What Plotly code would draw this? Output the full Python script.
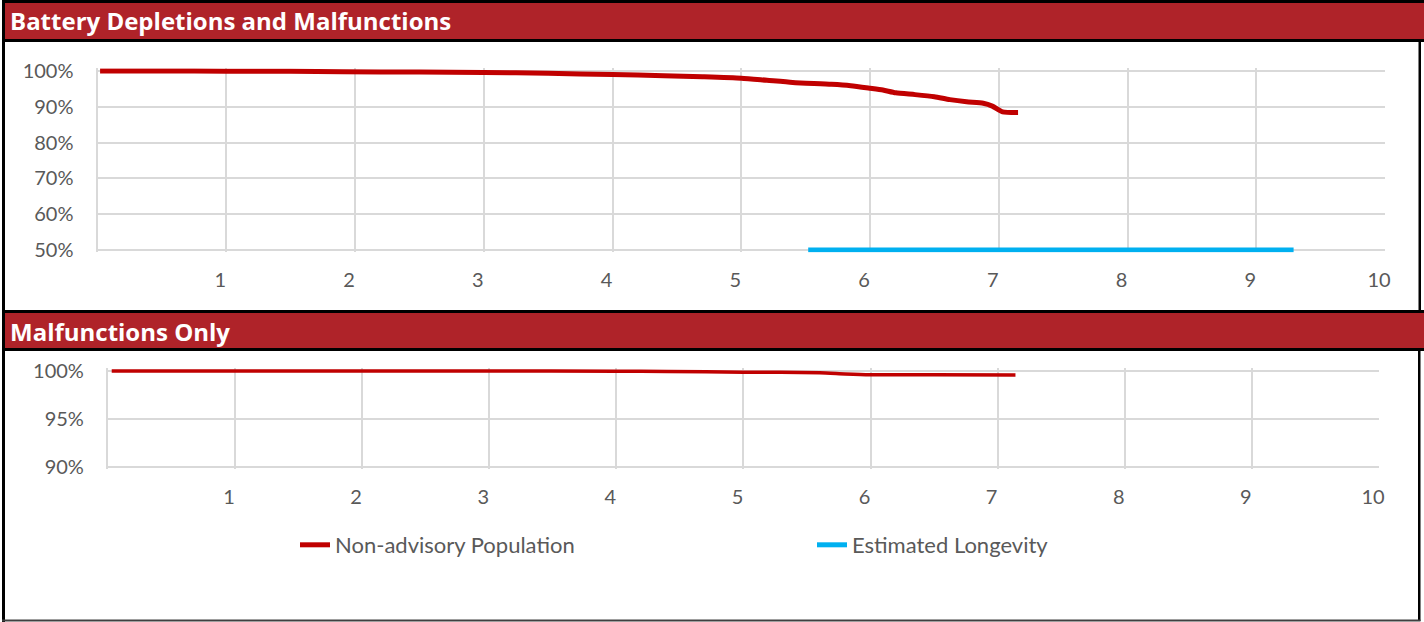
import plotly.graph_objects as go

# ---------------- data ----------------
top_years = [0.02, 0.5, 1.0, 1.5, 1.9, 2.5, 3.0, 3.5, 4.0, 4.4, 4.7, 5.0, 5.2, 5.4, 5.7,
             5.85, 6.0, 6.1, 6.2, 6.35, 6.5, 6.62, 6.75, 6.88, 6.95, 7.03, 7.15]
top_survival = [100.0, 100.0, 99.95, 99.9, 99.8, 99.7, 99.6, 99.35, 99.0, 98.7, 98.4, 98.0, 97.4,
                96.8, 96.3, 95.9, 95.2, 94.7, 93.9, 93.4, 92.8, 92.0, 91.4, 91.0, 90.2, 88.6, 88.4]

longevity_years = [5.52, 9.29]
longevity_level = [50, 50]

bottom_years = [0.03, 1.0, 2.0, 3.0, 4.0, 4.4, 5.0, 5.6, 5.8, 6.0, 6.5, 7.14]
bottom_survival = [100.0, 100.0, 100.0, 100.0, 99.98, 99.95, 99.88, 99.82, 99.7, 99.62, 99.6, 99.58]

x_ticks = [1, 2, 3, 4, 5, 6, 7, 8, 9, 10]
top_y_ticks = [50, 60, 70, 80, 90, 100]
top_y_labels = ["50%", "60%", "70%", "80%", "90%", "100%"]
bottom_y_ticks = [90, 95, 100]
bottom_y_labels = ["90%", "95%", "100%"]

series_names = ["Non-advisory Population", "Estimated Longevity"]
titles = ["Battery Depletions and Malfunctions", "Malfunctions Only"]

# ---------------- styling ----------------
W, H = 1424, 622
RED = "#C00000"
BLUE = "#00B0F0"
HEADER = "#AF2329"
GRID = "#D9D9D9"
TXT = "#595959"
FONT = "Lato"


def px(x):
    return x / W


def py(y):
    return 1 - y / H


fig = go.Figure()

fig.add_trace(go.Scatter(x=top_years, y=top_survival, mode="lines", name=series_names[0],
                         line=dict(color=RED, width=5, shape="spline", smoothing=0.6),
                         xaxis="x", yaxis="y"))
fig.add_trace(go.Scatter(x=longevity_years, y=longevity_level, mode="lines", name=series_names[1],
                         line=dict(color=BLUE, width=5), xaxis="x", yaxis="y"))
fig.add_trace(go.Scatter(x=bottom_years, y=bottom_survival, mode="lines", name=series_names[0],
                         showlegend=False,
                         line=dict(color=RED, width=3.5, shape="spline", smoothing=0.6),
                         xaxis="x2", yaxis="y2"))

tick_font = dict(family=FONT, size=20, color=TXT)

xcommon = dict(range=[0, 10], tickvals=x_ticks, showgrid=True, gridcolor=GRID, gridwidth=2,
               zeroline=False, showline=False, ticks="", tickfont=tick_font, automargin=False,
               ticklabelshift=-6, ticklabelstandoff=14, fixedrange=True)
ycommon = dict(showgrid=True, gridcolor=GRID, gridwidth=2, zeroline=False, showline=True,
               linecolor=GRID, linewidth=2, ticks="", tickfont=tick_font, automargin=False,
               ticklabelstandoff=18, fixedrange=True)

# top plot: 100% at y=71px, 50% at y=250px
top_scale = (250 - 71) / 50
top_range = [49.4, 100.8]
top_dom = [py(250 + (50 - top_range[0]) * top_scale), py(71 - (top_range[1] - 100) * top_scale)]
# bottom plot: 100% at 371px, 90% at 467px
bot_scale = (467 - 371) / 10
bot_range = [89.8, 100.3]
bot_dom = [py(467 + (90 - bot_range[0]) * bot_scale), py(371 - (bot_range[1] - 100) * bot_scale)]

fig.update_layout(
    width=W, height=H,
    margin=dict(l=0, r=0, t=0, b=0, pad=0, autoexpand=False),
    paper_bgcolor="white", plot_bgcolor="white",
    font=dict(family=FONT, color=TXT),
    xaxis=dict(domain=[px(97.5), px(1385)], anchor="y", **xcommon),
    yaxis=dict(domain=top_dom, anchor="x", range=top_range, tickvals=top_y_ticks,
               ticktext=top_y_labels, **ycommon),
    xaxis2=dict(domain=[px(107.9), px(1379)], anchor="y2", **xcommon),
    yaxis2=dict(domain=bot_dom, anchor="x2", range=bot_range, tickvals=bottom_y_ticks,
                ticktext=bottom_y_labels, **ycommon),
    legend=dict(orientation="h", x=px(295), y=py(545), xanchor="left", yanchor="middle",
                font=dict(family=FONT, size=22, color=TXT), entrywidth=472,
                entrywidthmode="pixels", bgcolor="rgba(0,0,0,0)", tracegroupgap=0),
    showlegend=True,
)

shapes = []


def rect(x0, y0, x1, y1, color):
    shapes.append(dict(type="rect", xref="paper", yref="paper", x0=px(x0), x1=px(x1),
                       y0=py(y1), y1=py(y0), fillcolor=color, line=dict(width=0), layer="above"))


# header bars
rect(2, 0, W, 42, "black")
rect(5, 3, W, 39, HEADER)
rect(2, 310, W, 351, "black")
rect(5, 313, W, 348, HEADER)
# frame borders
rect(2, 0, 5, 622, "black")
rect(1418.5, 42, 1421, 310, "black")
rect(1418, 351, 1420.5, 621, "black")
rect(2, 619.5, 1420.5, 621.5, "#404040")

fig.update_layout(shapes=shapes)

for title, yc in zip(titles, [21, 331]):
    fig.add_annotation(text="<b>%s</b>" % title, xref="paper", yref="paper", x=px(8), y=py(yc),
                       xanchor="left", yanchor="middle", showarrow=False,
                       font=dict(family="Open Sans", size=24, color="white"))

fig.write_html("out.html", config={"displayModeBar": False},
               post_script="document.body.style.margin='0';document.body.style.overflow='hidden';")
